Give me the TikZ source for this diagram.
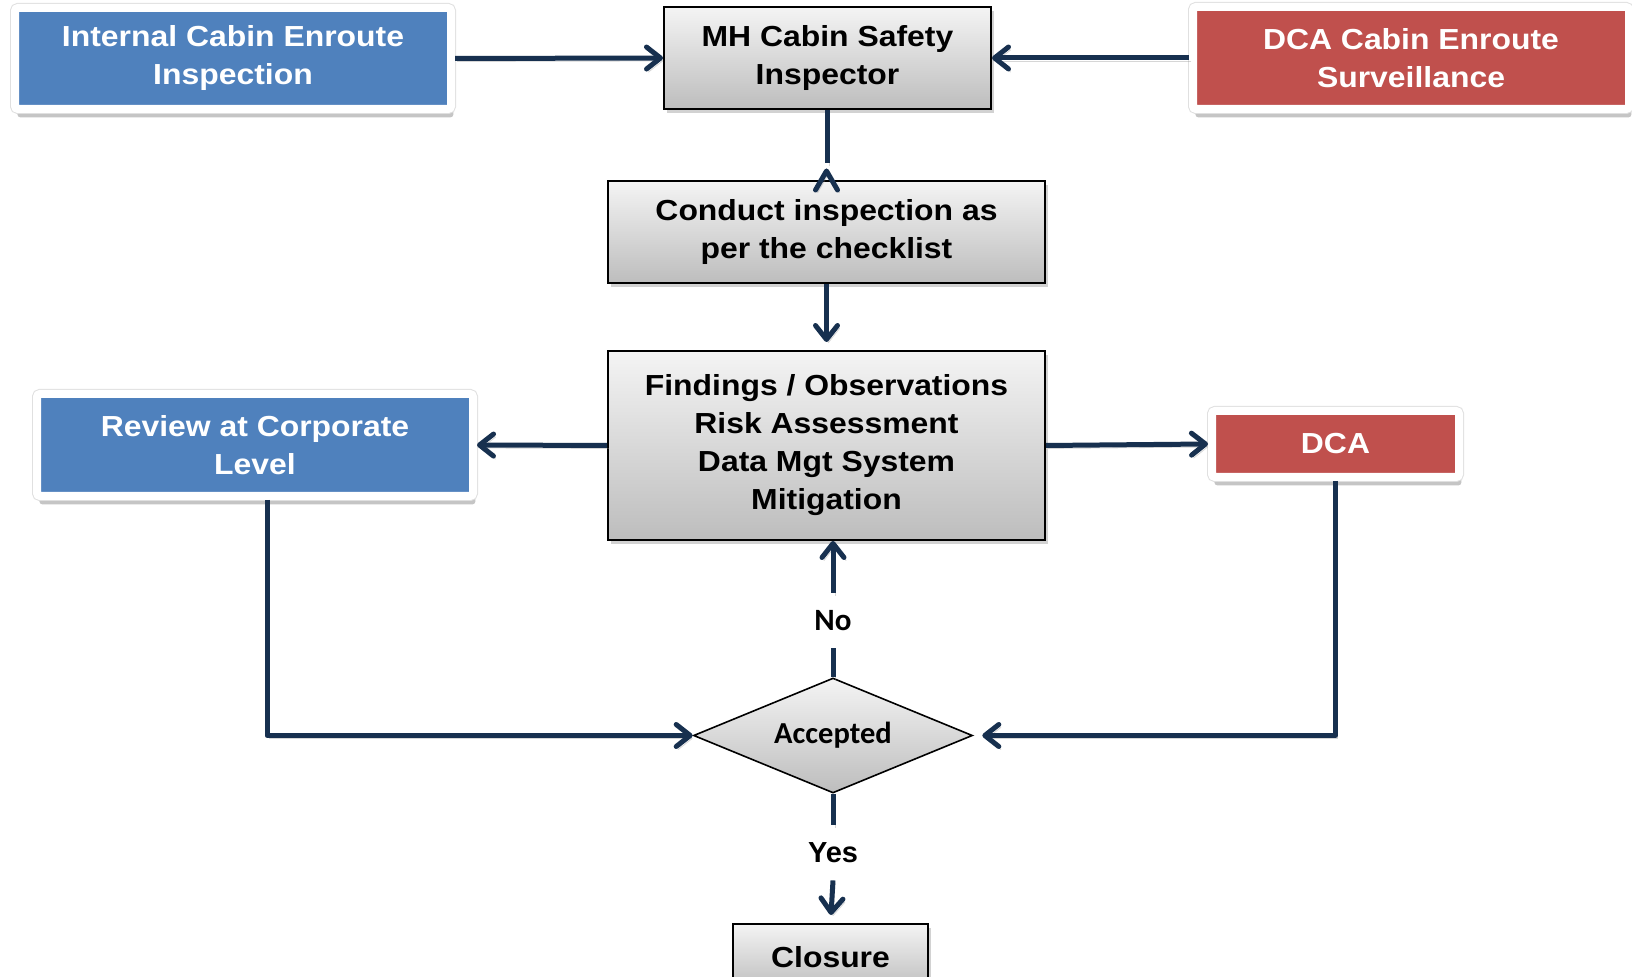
\documentclass[tikz,border=0pt]{standalone}
\usepackage{fontspec}
\setmainfont{Liberation Sans}[FakeStretch=1.1]
\newfontfamily\plainsans{Liberation Sans}
\newfontfamily\calibrifont{Carlito}
\usetikzlibrary{arrows.meta,shapes.geometric,shadows,calc}
\definecolor{boxblue}{HTML}{4F81BD}
\definecolor{boxred}{HTML}{C0504D}
\definecolor{navy}{HTML}{17304F}
\definecolor{gtop}{HTML}{F4F4F4}
\definecolor{gbot}{HTML}{BDBDBD}
\tikzset{
  txt/.style={font=\fontsize{14.5}{19}\selectfont\bfseries, align=center},
  shad/.style={drop shadow={shadow xshift=1.5pt, shadow yshift=-2pt, opacity=.35}},
  graybox/.style={txt, draw=black, line width=1pt, top color=gtop, bottom color=gbot, shad, inner sep=0pt},
  colbox/.style={txt, text=white, draw=white, line width=4pt, rounded corners=1.5pt,
    drop shadow={shadow xshift=1.2pt, shadow yshift=-4.2pt, opacity=.45},
    preaction={draw=black!12, line width=5pt}, inner sep=0pt},
  bluebox/.style={colbox, fill=boxblue},
  redbox/.style={colbox, fill=boxred},
  conn/.style={draw=navy, line width=2.5pt, line join=round,
    preaction={draw=black!45, opacity=.35, transform canvas={shift={(1pt,-1.5pt)}}}},
  arr/.style={conn, -{Straight Barb[length=7pt,width=11pt,round]}},
  lbl/.style={inner sep=0pt, minimum height=27.5pt},
}
\begin{document}
\begin{tikzpicture}[x=0.5pt,y=-0.5pt]
\useasboundingbox (0,0) rectangle (1632,977);
\fill[white] (0,0) rectangle (1632,977);

\node[bluebox, minimum width=218pt, minimum height=50.5pt] (int) at (233,58.5) {Internal Cabin Enroute\\Inspection};
\node[graybox, minimum width=163.5pt, minimum height=51pt] (mh) at (827.5,58) {MH Cabin Safety\\Inspector};
\node[redbox, minimum width=218pt, minimum height=51pt] (dcas) at (1411,58) {DCA Cabin Enroute\\Surveillance};
\node[graybox, minimum width=218.5pt, minimum height=51pt] (conduct) at (826.5,232) {Conduct inspection as\\per the checklist};
\node[graybox, minimum width=218.5pt, minimum height=94.5pt, font=\fontsize{14.5}{19}\selectfont\bfseries] (findings) at (826.5,445.5) {Findings / Observations\\Risk Assessment\\Data Mgt System\\Mitigation};
\node[bluebox, minimum width=218pt, minimum height=51pt] (review) at (255,445) {Review at Corporate\\Level};
\node[redbox, minimum width=123.5pt, minimum height=33pt] (dca) at (1335.5,444) {DCA};
\node[diamond, draw=black, line width=0.8pt, top color=gtop, bottom color=gbot, inner sep=0pt,
      shape aspect=2.43, minimum width=139.5pt, minimum height=57.5pt,
      font={\calibrifont\fontsize{15.25}{18}\selectfont\bfseries}] (acc) at (833,735.5) {Accepted};
\node[graybox, minimum width=97.5pt, minimum height=33pt] (closure) at (830.5,957) {Closure};
\node[lbl, font={\calibrifont\fontsize{15.5}{18}\selectfont\bfseries}] (no) at (833,620.5) {No};
\node[lbl, font={\plainsans\fontsize{14.5}{18}\selectfont\bfseries}] (yes) at (833,852.5) {Yes};

\coordinate (gapA) at (827.5,163);
\draw[arr] (int.east) -- (mh.west);
\draw[arr] (dcas.west) -- (mh.east);
\draw[conn] (mh.south) -- (gapA);
\draw[conn, line cap=round] ($(conduct.north)+(-11,10)$) -- ($(conduct.north)+(0,-9)$) -- ($(conduct.north)+(11,10)$);
\draw[arr, shorten >=4pt] (conduct.south) -- (findings.north);
\draw[arr] (findings.west) -- (review.east);
\draw[arr] (findings.east) -- (dca.west);
\draw[arr, shorten >=4.5pt] (dca.south) |- (acc.east);
\draw[arr] ([xshift=6pt]review.south) |- (acc.west);
\draw[conn] (acc.north) -- (no.south);
\draw[arr] (no.north) -- (no.north |- findings.south);
\draw[conn] (acc.south) -- (yes.north);
\draw[arr, shorten >=4pt] (yes.south) -- (closure.north);
\end{tikzpicture}
\end{document}
